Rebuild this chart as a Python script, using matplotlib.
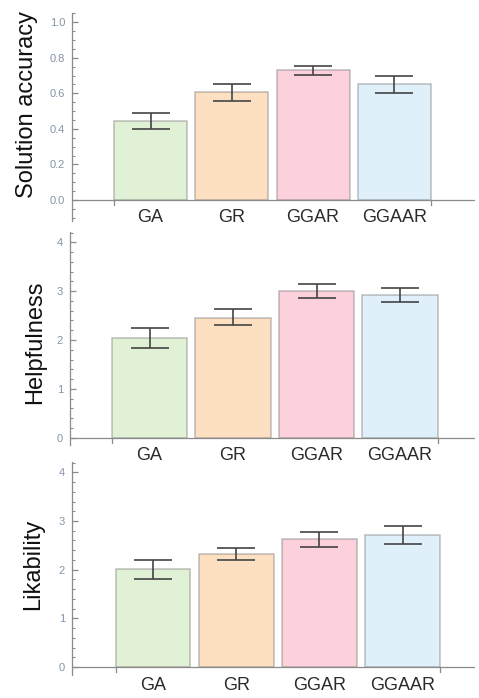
import matplotlib
matplotlib.use("Agg")
import matplotlib.pyplot as plt
from matplotlib.ticker import MultipleLocator, FixedLocator

plt.rcParams['font.family'] = ['Liberation Sans', 'DejaVu Sans']

categories = ["GA", "GR", "GGAR", "GGAAR"]
colors = ["#e1f1d5", "#fde0c2", "#fcd1dc", "#dff0fa"]

accuracy = [0.445, 0.605, 0.730, 0.653]
accuracy_lo = [0.400, 0.558, 0.704, 0.601]
accuracy_hi = [0.487, 0.652, 0.755, 0.700]

helpful = [2.04, 2.46, 3.00, 2.92]
helpful_lo = [1.84, 2.30, 2.85, 2.77]
helpful_hi = [2.24, 2.63, 3.15, 3.06]

likable = [2.01, 2.33, 2.62, 2.72]
likable_lo = [1.80, 2.19, 2.46, 2.53]
likable_hi = [2.20, 2.45, 2.77, 2.90]

W, H = 479, 698
fig = plt.figure(figsize=(W / 100, H / 100), dpi=100)

AXC = "#8a8a8a"
TICKC = "#8494a8"

panels = [
    dict(label="Solution accuracy", v=accuracy, lo=accuracy_lo, hi=accuracy_hi,
         major=0.2, minor=0.05, fmt="{:.1f}", ymax_val=1.0,
         left=72, right=475, top=13, bottom=221, y0=200, y1=22.3,
         c0=150.5, step=81.3, lx=27, ly=105, ticks_max=1.0),
    dict(label="Helpfulness", v=helpful, lo=helpful_lo, hi=helpful_hi,
         major=1, minor=0.2, fmt="{:.0f}", ymax_val=4.0,
         left=70, right=475, top=232, bottom=445, y0=437.7, y1=242.3,
         c0=149.5, step=83.5, lx=35, ly=342, ticks_max=4),
    dict(label="Likability", v=likable, lo=likable_lo, hi=likable_hi,
         major=1, minor=0.2, fmt="{:.0f}", ymax_val=4.0,
         left=72, right=475, top=462, bottom=675, y0=667, y1=472.3,
         c0=153, step=83.2, lx=33, ly=564, ticks_max=4),
]

for p in panels:
    l, r, t, b = p["left"], p["right"], p["top"], p["bottom"]
    ax = fig.add_axes([l / W, 1 - b / H, (r - l) / W, (b - t) / H])
    ppu = (p["y0"] - p["y1"]) / p["ymax_val"]
    ylo = -(b - p["y0"]) / ppu
    yhi = (p["y0"] - t) / ppu
    xlo = (l - p["c0"]) / p["step"]
    xhi = (r - p["c0"]) / p["step"]
    ax.set_xlim(xlo, xhi)
    ax.set_ylim(ylo, yhi)
    x = list(range(len(categories)))
    ax.bar(x, p["v"], width=0.9, color=colors,
           edgecolor=(0.45, 0.45, 0.45, 0.45), linewidth=1.1, zorder=2)
    yerr = [[v - lo for v, lo in zip(p["v"], p["lo"])],
            [hi - v for v, hi in zip(p["v"], p["hi"])]]
    ax.errorbar(x, p["v"], yerr=yerr, fmt="none", ecolor="#444444",
                elinewidth=1.2, capsize=13.5, capthick=1.2, zorder=3)
    for s in ["top", "right", "bottom"]:
        ax.spines[s].set_visible(False)
    ax.spines["left"].set_color(AXC)
    ax.spines["left"].set_linewidth(0.9)
    ax.axhline(0, color=AXC, lw=0.9, zorder=4)
    ax.set_xticks([])
    for xt in [-0.45, len(categories) - 1 + 0.45]:
        ax.plot([xt, xt], [0, -5 / ppu], color=AXC, lw=0.9, clip_on=False, zorder=4)
    for i, c in enumerate(categories):
        ax.text(i, -18 / ppu, c, ha="center", va="center", fontsize=13,
                color="#2a2a2a")
    n = int(round(p["ticks_max"] / p["major"]))
    majors = [k * p["major"] for k in range(n + 1)]
    ax.yaxis.set_major_locator(FixedLocator(majors))
    ax.set_yticklabels([p["fmt"].format(m) for m in majors])
    ax.yaxis.set_minor_locator(MultipleLocator(p["minor"]))
    ax.tick_params(axis="y", which="major", direction="in", length=4,
                   width=0.9, color=AXC, labelsize=8, labelcolor=TICKC, pad=5)
    ax.tick_params(axis="y", which="minor", direction="in", length=2.2,
                   width=0.8, color=AXC)
    fig.text(p["lx"] / W, 1 - p["ly"] / H, p["label"], rotation=90,
             ha="center", va="center", fontsize=17, color="#111111")

fig.savefig("out.png", dpi=100)
